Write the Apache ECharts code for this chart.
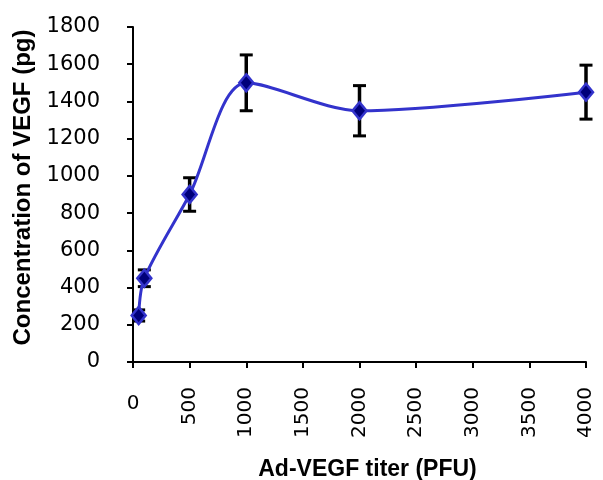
<!DOCTYPE html>
<html><head><meta charset="utf-8">
<script src="https://cdn.jsdelivr.net/npm/echarts@6/dist/echarts.min.js"></script>
<style>html,body{margin:0;padding:0;background:#fff}#c{width:603px;height:480px}</style>
</head><body><div id="c"></div>
<script>
const titers = [50, 100, 500, 1000, 2000, 4000];
const vegf = [250, 450, 900, 1500, 1350, 1450];
const errs = [30, 45, 90, 150, 135, 145];
const xTicks = [0, 500, 1000, 1500, 2000, 2500, 3000, 3500, 4000];
const yTicks = [0, 200, 400, 600, 800, 1000, 1200, 1400, 1600, 1800];

const chart = echarts.init(document.getElementById('c'));
const font = 'Liberation Sans, Arial, sans-serif';
const tickFont = 'DejaVu Sans, sans-serif';
chart.setOption({
  animation: false,
  grid: {left: 133, right: 17, top: 27, bottom: 118, outerBoundsMode: 'none', containLabel: false},
  xAxis: {
    type: 'value', min: 0, max: 4000, interval: 500,
    name: 'Ad-VEGF titer (PFU)', nameLocation: 'middle', nameGap: 96,
    nameTextStyle: {fontFamily: font, fontWeight: 'bold', fontSize: 23, color: '#000', padding: [0, 0, 0, 16]},
    axisLine: {lineStyle: {color: '#000', width: 2}},
    axisTick: {show: true, length: 6, lineStyle: {color: '#000', width: 2}},
    splitLine: {show: false},
    axisLabel: {rotate: 90, fontFamily: tickFont, fontSize: 20, color: '#000', margin: 25,
      formatter: v => (v !== 0 && xTicks.includes(v)) ? String(v) : ''}
  },
  yAxis: {
    type: 'value', min: 0, max: 1800, interval: 200,
    name: 'Concentration of VEGF (pg)', nameLocation: 'middle', nameGap: 95,
    nameTextStyle: {fontFamily: font, fontWeight: 'bold', fontSize: 24, color: '#000', padding: [0, 0, 0, 14]},
    axisLine: {show: true, lineStyle: {color: '#000', width: 2}},
    axisTick: {show: true, length: 6, lineStyle: {color: '#000', width: 2}},
    splitLine: {show: false},
    axisLabel: {fontFamily: tickFont, fontSize: 21, color: '#000', margin: 33,
      formatter: v => yTicks.includes(v) ? String(v) : ''}
  },
  series: [
    {
      type: 'line', smooth: 0.3,
      data: titers.map((x, i) => [x, vegf[i]]),
      lineStyle: {color: '#3333cc', width: 3},
      symbol: 'diamond', symbolSize: [14, 17],
      itemStyle: {color: '#00007a', borderColor: '#3333cc', borderWidth: 2.5},
      z: 3
    },
    {
      type: 'custom',
      data: titers.map((x, i) => [x, vegf[i] - errs[i], vegf[i] + errs[i]]),
      renderItem: function (params, api) {
        const lo = api.coord([api.value(0), api.value(1)]);
        const hi = api.coord([api.value(0), api.value(2)]);
        const hw = 6.5;
        const st = {stroke: '#000', lineWidth: 3.5};
        const cs = {stroke: '#000', lineWidth: 3};
        return {type: 'group', children: [
          {type: 'line', shape: {x1: lo[0], y1: lo[1], x2: hi[0], y2: hi[1]}, style: st},
          {type: 'line', shape: {x1: lo[0] - hw, y1: lo[1], x2: lo[0] + hw, y2: lo[1]}, style: cs},
          {type: 'line', shape: {x1: hi[0] - hw, y1: hi[1], x2: hi[0] + hw, y2: hi[1]}, style: cs}
        ]};
      },
      z: 2
    }
  ]
});
// the "0" tick label on the x axis is drawn upright in the reference
const p0 = chart.convertToPixel({xAxisIndex: 0}, xTicks[0]);
chart.setOption({
  graphic: [{type: 'text', x: p0, y: 404, style: {text: String(xTicks[0]), font: '20px ' + tickFont, fill: '#000', align: 'center', verticalAlign: 'middle'}}]
});
</script></body></html>
